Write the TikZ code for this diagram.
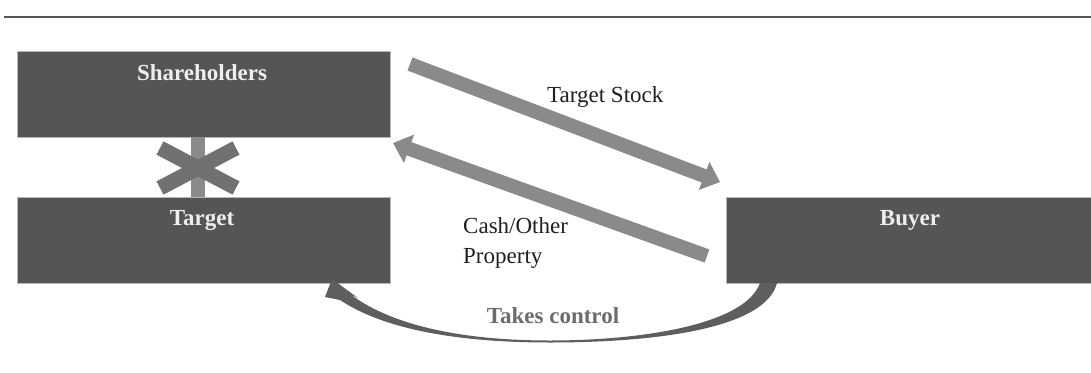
\documentclass[tikz,border=0pt]{standalone}
\usepackage{fontspec}
\setmainfont{Liberation Serif}
\usetikzlibrary{arrows.meta}

\definecolor{boxfill}{HTML}{555555}
\definecolor{boxedge}{HTML}{B4B4B4}
\definecolor{flow}{HTML}{8A8A8A}
\definecolor{cross}{HTML}{717171}
\definecolor{ctrl}{HTML}{5E5E5E}
\definecolor{ctrltext}{HTML}{6C6C6C}
\definecolor{rulegray}{HTML}{555555}
\definecolor{labeltext}{HTML}{EEEEEE}

\begin{document}
\begin{tikzpicture}[x=1pt,y=-1pt,
  box/.style={fill=boxfill, draw=boxedge, line width=0.8pt, inner sep=0pt, minimum height=86pt},
  boxlabel/.style={text=labeltext, font=\fontsize{23}{28}\selectfont\bfseries, inner sep=0pt, anchor=base},
  flowarrow/.style={draw=flow, line width=14pt, -{Triangle[width=29pt,length=17pt]}},
  caption/.style={font=\fontsize{23}{30}\selectfont, inner sep=0pt, text=black!88},
]
\useasboundingbox (0,0) rectangle (1091,372);

% header rule
\draw[rulegray, line width=2pt] (4,16.5) -- (1091,16.5);

% parties
\node[box, minimum width=373pt] (sh) at (203.5,94) {};
\node[box, minimum width=373pt] (tg) at (203.5,240) {};
\node[box, minimum width=372pt] (by) at (912,240) {};

\node[boxlabel] (shl) at (202,80) {Shareholders};
\node[boxlabel] (tgl) at (202,225) {Target};
\node[boxlabel] (byl) at (910,225) {Buyer};

% severed link between shareholders and target
\draw[flow, line width=14pt] ([xshift=-6pt]sh.south) -- ([xshift=-6pt]tg.north);
\draw[cross, line width=15pt] (160,148) -- (236,188);
\draw[cross, line width=15pt] (236,148) -- (160,188);

% stock for cash
\coordinate (stockA) at (410,64);
\coordinate (stockB) at (720,182);
\coordinate (cashA) at (707,256);
\coordinate (cashB) at (393,143);
\draw[flowarrow] (stockA) -- (stockB);
\draw[flowarrow] (cashA) -- (cashB);

\node[caption, anchor=base west] (stocklbl) at (547,102) {Target Stock};
\node[caption, anchor=base west, align=left] (cashlbl) at (463,263) {Cash/Other\\Property};

% buyer takes control of target: tapered curved arrow
\fill[ctrl] (332,279) -- (358,298) -- (350,294)
  .. controls (395,328) and (470,340.5) .. (550,340.5)
  .. controls (640,340.5) and (745,325) .. (760,283)
  -- (777,283)
  .. controls (765,330) and (650,342.5) .. (550,342.5)
  .. controls (460,342.5) and (385,330) .. (340,300)
  -- (325,297) -- cycle;
\node[caption, font=\fontsize{23}{30}\selectfont\bfseries, text=ctrltext, anchor=base] (ctrllbl) at (553,323) {Takes control};
\end{tikzpicture}
\end{document}
